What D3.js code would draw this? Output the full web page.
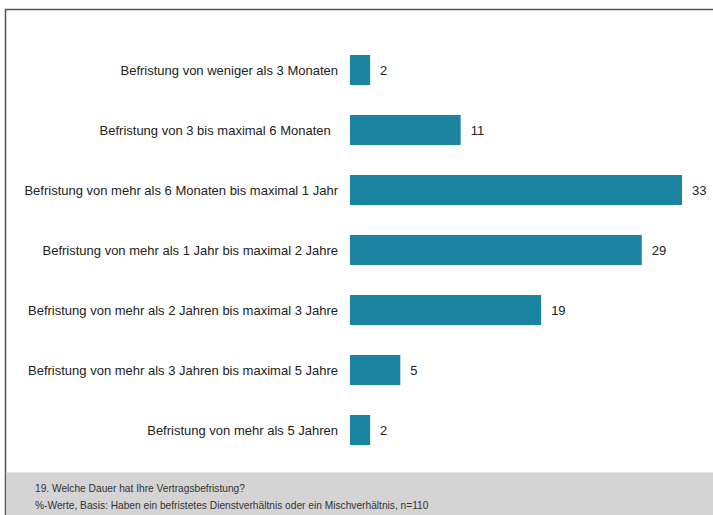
<!DOCTYPE html>
<html>
<head>
<meta charset="utf-8">
<script src="https://cdn.jsdelivr.net/npm/d3@7/dist/d3.min.js"></script>
<style>
  html, body { margin: 0; padding: 0; background: #fff; }
  svg { display: block; }
  text.cat { white-space: pre; }
</style>
</head>
<body>
<svg id="chart" width="713" height="515"></svg>
<script>
const categories = [
  "Befristung von weniger als 3 Monaten",
  "Befristung von 3 bis maximal 6 Monaten  ",
  "Befristung von mehr als 6 Monaten bis maximal 1 Jahr",
  "Befristung von mehr als 1 Jahr bis maximal 2 Jahre",
  "Befristung von mehr als 2 Jahren bis maximal 3 Jahre",
  "Befristung von mehr als 3 Jahren bis maximal 5 Jahre",
  "Befristung von mehr als 5 Jahren"
];
const values = [2, 11, 33, 29, 19, 5, 2];
const footerLines = [
  "19. Welche Dauer hat Ihre Vertragsbefristung?",
  "%-Werte, Basis: Haben ein befristetes Dienstverhältnis oder ein Mischverhältnis, n=110"
];

const W = 713, H = 515;
const svg = d3.select("#chart");
const font = "'Liberation Sans', Arial, sans-serif";

// frame: top rule and left rule
svg.append("line").attr("x1", 5).attr("x2", W).attr("y1", 9.5).attr("y2", 9.5)
  .attr("stroke", "#555").attr("stroke-width", 1.5);
svg.append("line").attr("x1", 5.5).attr("x2", 5.5).attr("y1", 9).attr("y2", H)
  .attr("stroke", "#555").attr("stroke-width", 1.5);

// footer band
svg.append("rect").attr("x", 6).attr("y", 472).attr("width", W - 6).attr("height", H - 472)
  .attr("fill", "#d4d4d4");
svg.append("line").attr("x1", 6).attr("x2", W).attr("y1", 472.5).attr("y2", 472.5)
  .attr("stroke", "#e4e4e4");

footerLines.forEach((t, i) => {
  svg.append("text").attr("x", 35).attr("y", 492 + i * 17)
    .attr("font-family", font).attr("font-size", 10.2).attr("fill", "#333")
    .text(t);
});

// scales
const x = d3.scaleLinear().domain([0, 33]).range([350, 682]);
const y = d3.scaleBand().domain(categories).range([40, 460]).paddingInner(0.5).paddingOuter(0.25);

const g = svg.append("g");

g.selectAll("rect.bar").data(values).join("rect")
  .attr("class", "bar")
  .attr("x", x(0))
  .attr("y", (d, i) => y(categories[i]))
  .attr("width", d => x(d) - x(0))
  .attr("height", y.bandwidth())
  .attr("fill", "#1a84a1");

g.selectAll("text.val").data(values).join("text")
  .attr("class", "val")
  .attr("x", d => x(d) + 10)
  .attr("y", (d, i) => y(categories[i]) + y.bandwidth() / 2)
  .attr("dy", "0.35em")
  .attr("font-family", font).attr("font-size", 13).attr("fill", "#222")
  .text(d => d);

g.selectAll("text.cat").data(categories).join("text")
  .attr("class", "cat")
  .attr("x", 338)
  .attr("y", d => y(d) + y.bandwidth() / 2)
  .attr("dy", "0.35em")
  .attr("text-anchor", "end")
  .attr("font-family", font).attr("font-size", 13).attr("fill", "#222")
  .text(d => d);
</script>
</body>
</html>
